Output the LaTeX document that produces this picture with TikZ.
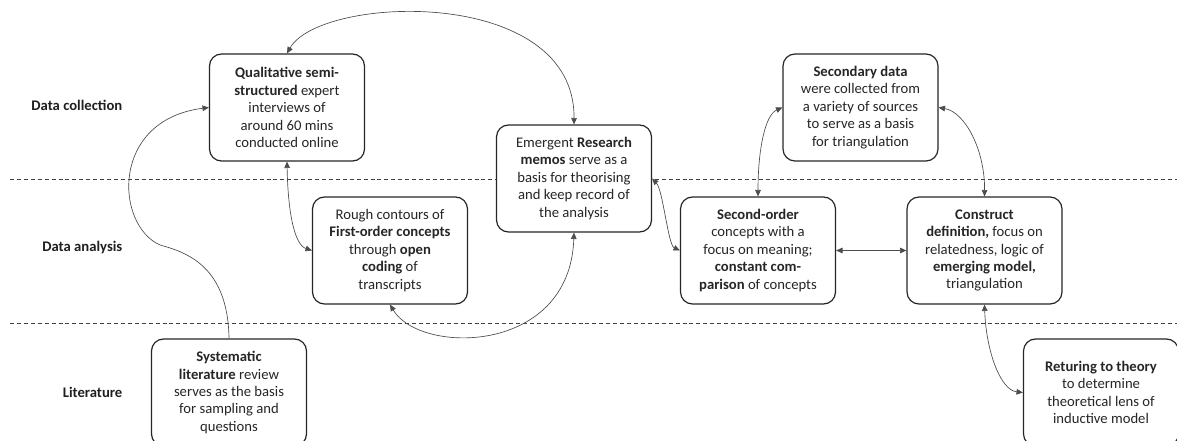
\documentclass[tikz,border=0pt]{standalone}
\usepackage{fontspec}
\setmainfont{Carlito}
\usetikzlibrary{arrows.meta}
\begin{document}
\begin{tikzpicture}[x=0.75pt,y=-0.75pt,
  box/.style={draw=black!85, line width=0.9pt, rounded corners=9pt, fill=white,
    minimum width=116.25pt, minimum height=80.25pt, align=center, inner sep=0pt,
    font=\fontsize{11}{13.1}\selectfont, text=black!85},
  lab/.style={anchor=east, font=\fontsize{11}{13}\selectfont\bfseries, text=black!88},
  link/.style={line width=0.5pt, draw=black!70, >={Triangle[length=4.8pt,width=4.2pt]}},
  sepline/.style={line width=0.7pt, draw=black!75, dash pattern=on 3pt off 2.2pt}]
\clip (0,0) rectangle (1177,441);
% swimlane separators
\coordinate (s1a) at (10,179); \coordinate (s1b) at (1177,179);
\coordinate (s2a) at (10,323); \coordinate (s2b) at (1177,323);
\draw[sepline] (s1a) -- (s1b);
\draw[sepline] (s2a) -- (s2b);
% lane labels
\node[lab] (lcol) at (127,105) {Data collection};
\node[lab] (lana) at (127,248) {Data analysis};
\node[lab] (llit) at (127,392) {Literature};
% boxes
\node[box] (qual) at (287,107.5) {\textbf{Qualitative semi-}\\\textbf{structured} expert\\interviews of\\around 60 mins\\conducted online};
\node[box] (first) at (390,250.5) {Rough contours of\\\textbf{First-order concepts}\\through \textbf{open}\\\textbf{coding} of\\transcripts};
\node[box] (memos) at (574,178.5) {Emergent \textbf{Research}\\\textbf{memos} serve as a\\basis for theorising\\and keep record of\\the analysis};
\node[box] (second) at (758,250.5) {\textbf{Second-order}\\concepts with a\\focus on meaning;\\\textbf{constant com-}\\\textbf{parison} of concepts};
\node[box] (secdata) at (860.5,107.5) {\textbf{Secondary data}\\were collected from\\a variety of sources\\to serve as a basis\\for triangulation};
\node[box] (construct) at (984.5,250.5) {\textbf{Construct}\\\textbf{definition,} focus on\\relatedness, logic of\\\textbf{emerging model,}\\triangulation};
\node[box] (syslit) at (229,392.5) {\textbf{Systematic}\\\textbf{literature} review\\serves as the basis\\for sampling and\\questions};
\node[box] (theory) at (1101,392.5) {\textbf{Returing to theory}\\to determine\\theoretical lens of\\inductive model};
% connectors
\draw[link,<->] (qual.north) .. controls (320,-5) and (575,-15) .. (memos.north);
\draw[link,->] (syslit.north) .. controls (228,265) and (185,252) .. (160,245)
   .. controls (115,225) and (110,120) .. (qual.west);
\draw[link,<->] (qual.south) .. controls (288,215) and (295,245) .. (first.west);
\draw[link,<->] (first.south) .. controls (420,355) and (570,355) .. (memos.south);
\draw[link,<->] (memos.east) .. controls (663,190) and (668,245) .. (second.west);
\draw[link,<->] (second.north) .. controls (758,150) and (765,115) .. (secdata.west);
\draw[link,<->] (second.east) -- (construct.west);
\draw[link,<->] (secdata.east) .. controls (965,112) and (985,150) .. (construct.north);
\draw[link,<->] (construct.south) .. controls (986,350) and (1000,390) .. (theory.west);
\end{tikzpicture}
\end{document}
